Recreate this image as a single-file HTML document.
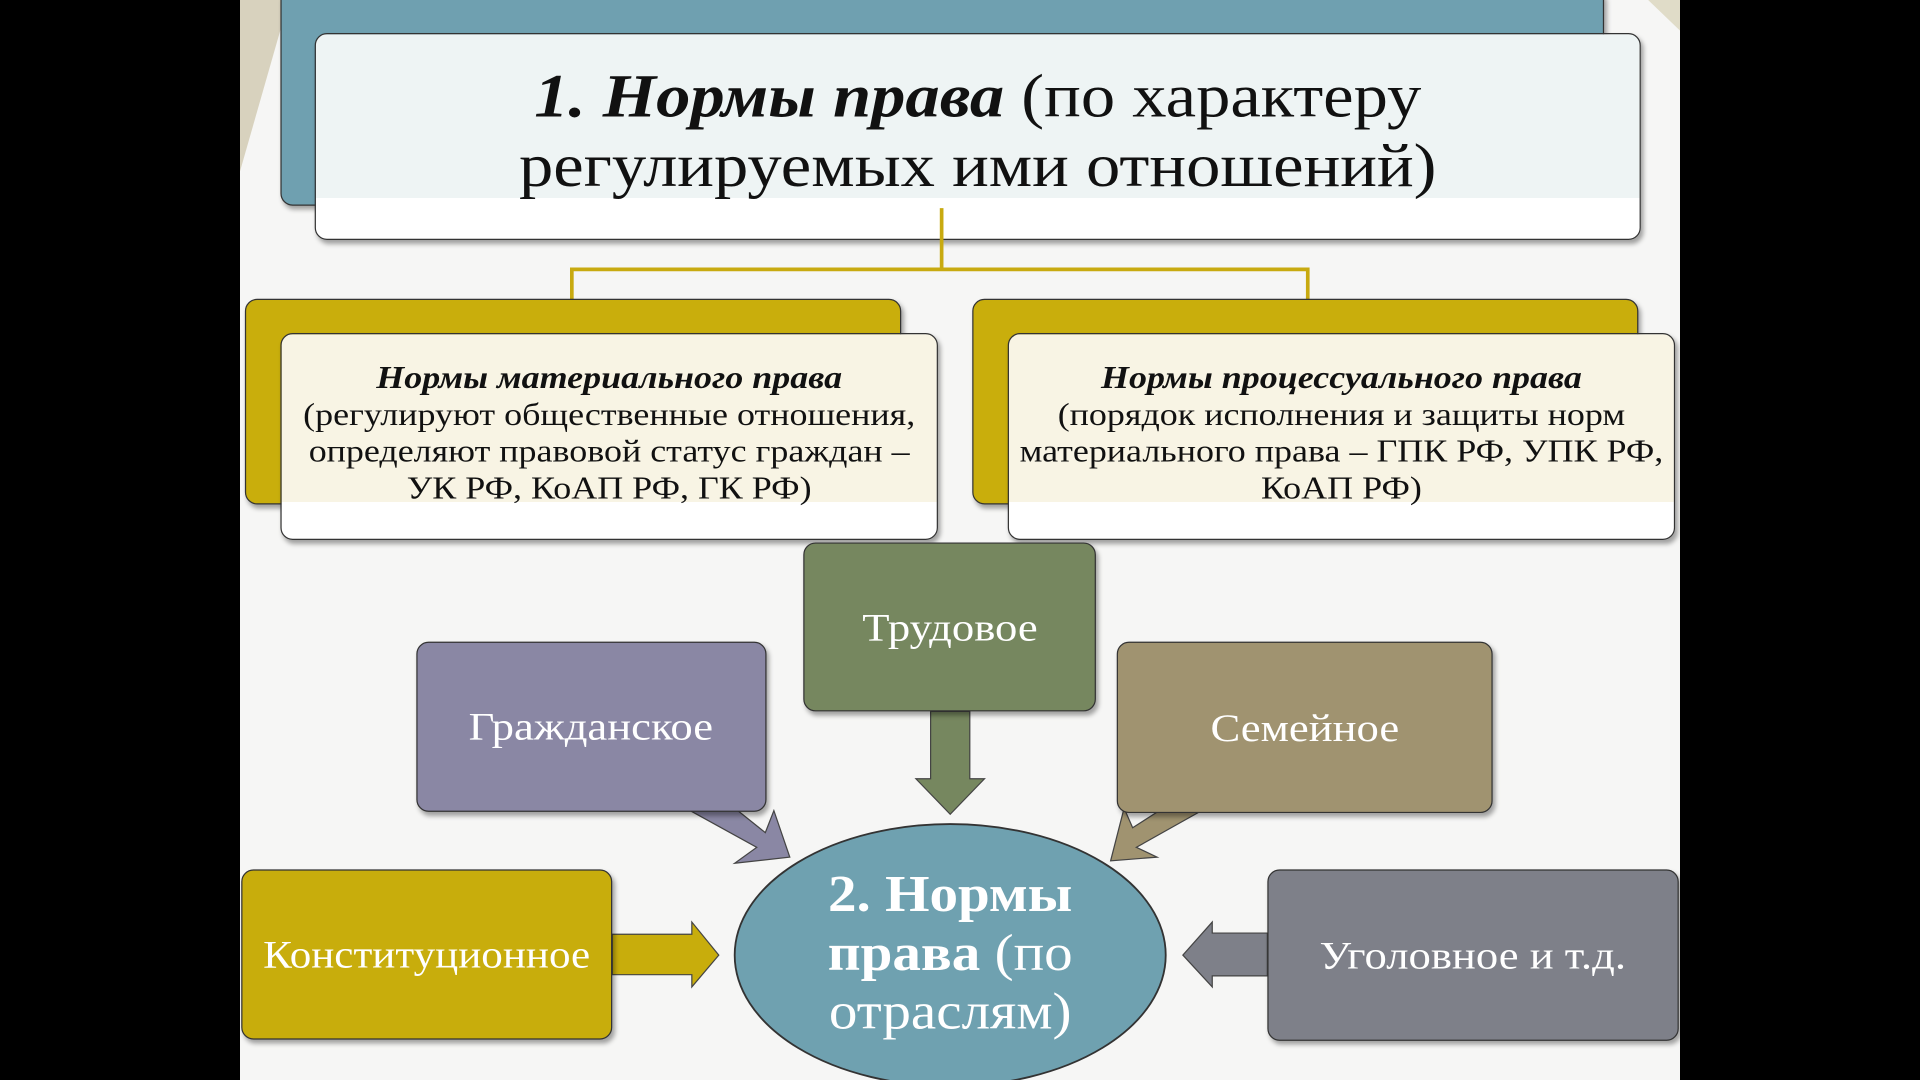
<!DOCTYPE html>
<html><head><meta charset="utf-8"><style>
html,body{margin:0;padding:0;background:#000;width:1920px;height:1080px;overflow:hidden}
#w{position:absolute;left:0;top:0;width:1568px;height:882px;transform:scale(1.22449);transform-origin:0 0;font-family:"Liberation Serif",serif}
.a{position:absolute;box-sizing:border-box}
.bx{border-radius:10px;border:1.5px solid #333;box-shadow:2px 3px 4px rgba(0,0,0,.35)}
.lab{display:flex;align-items:center;justify-content:center;color:#fff;font-size:32px;text-align:center}
.lab span{display:inline-block;transform:scaleX(1.14);white-space:nowrap}
.t{position:absolute;left:0;right:0;text-align:center;color:#111;transform:scaleX(1.13)}
</style></head><body><div id="w">
<div class="a" style="left:196px;top:0;width:1176px;height:882px;background:#f6f6f5"></div>
<svg class="a" style="left:196px;top:0" width="1176" height="882">
<polygon points="0,0 40,0 0,140" fill="#d8d2be"/>
<polygon points="1176,0 1150,0 1176,25" fill="#e0dcc8"/>
</svg>
<div class="a bx" style="left:229px;top:-10px;width:1081px;height:178px;background:#6fa0b0"></div>
<div class="a bx" style="left:257px;top:27px;width:1083px;height:169px;background:linear-gradient(#eef4f4,#eef4f4 80%,#fff 80%)"></div>
<div class="t" style="left:257px;width:1083px;top:50px;font-size:50px;line-height:57px;transform:scaleX(1.12)"><b><i>1. Нормы права</i></b> (по характеру<br>регулируемых ими отношений)</div>
<svg class="a" style="left:0;top:0" width="1568" height="882">
<path d="M769,170 V220 M467,245 V220 H1068 V245" stroke="#c8aa10" stroke-width="3" fill="none"/>
</svg>
<div class="a bx" style="left:200px;top:244px;width:536px;height:168px;background:#c9ae0c"></div>
<div class="a bx" style="left:229px;top:272px;width:537px;height:169px;background:linear-gradient(#f8f4e4,#f8f4e4 82%,#fff 82%)"></div>
<div class="t" style="left:229px;width:537px;top:294px;font-size:26px;line-height:30px"><b><i>Нормы материального права</i></b><br>(регулируют общественные отношения,<br>определяют правовой статус граждан –<br>УК РФ, КоАП РФ, ГК РФ)</div>
<div class="a bx" style="left:794px;top:244px;width:544px;height:168px;background:#c9ae0c"></div>
<div class="a bx" style="left:823px;top:272px;width:545px;height:169px;background:linear-gradient(#f8f4e4,#f8f4e4 82%,#fff 82%)"></div>
<div class="t" style="left:823px;width:545px;top:294px;font-size:26px;line-height:30px"><b><i>Нормы процессуального права</i></b><br>(порядок исполнения и защиты норм<br>материального права – ГПК РФ, УПК РФ,<br>КоАП РФ)</div>
<svg class="a" style="left:0;top:0" width="1568" height="882">
<polygon points="760,581 792,581 792,636 804,636 776,665 748,636 760,636" fill="#76875f" stroke="#444"/>
<polygon points="560,660 600,660 625,680 632,662 645,700 600,705 618,692" fill="#8a87a4" stroke="#444"/>
<polygon points="985,660 950,660 925,676 918,660 907,703 945,700 928,692" fill="#a09370" stroke="#444"/>
<polygon points="500,763 565,763 565,753 587,780 565,806 565,796 500,796" fill="#c8ad0c" stroke="#444"/>
<polygon points="1035,762 990,762 990,753 966,780 990,806 990,797 1035,797" fill="#7e8089" stroke="#444"/>
<ellipse cx="776" cy="780" rx="176" ry="107" fill="#6fa1b0" stroke="#333" stroke-width="1.5"/>
</svg>
<div class="a bx lab" style="left:656px;top:443px;width:239px;height:138px;background:#76875f"><span>Трудовое</span></div>
<div class="a bx lab" style="left:340px;top:524px;width:286px;height:139px;background:#8a87a4"><span>Гражданское</span></div>
<div class="a bx lab" style="left:912px;top:524px;width:307px;height:140px;background:#a09370"><span>Семейное</span></div>
<div class="a bx lab" style="left:197px;top:710px;width:303px;height:139px;background:#c8ad0c"><span style="transform:scaleX(1.1)">Конституционное</span></div>
<div class="a bx lab" style="left:1035px;top:710px;width:336px;height:140px;background:#7e8089"><span>Уголовное и т.д.</span></div>
<div class="t" style="left:600px;width:352px;top:707px;font-size:42px;line-height:48px;color:#fff;transform:scaleX(1.11)"><b>2. Нормы<br>права</b> (по<br>отраслям)</div>
</div></body></html>
